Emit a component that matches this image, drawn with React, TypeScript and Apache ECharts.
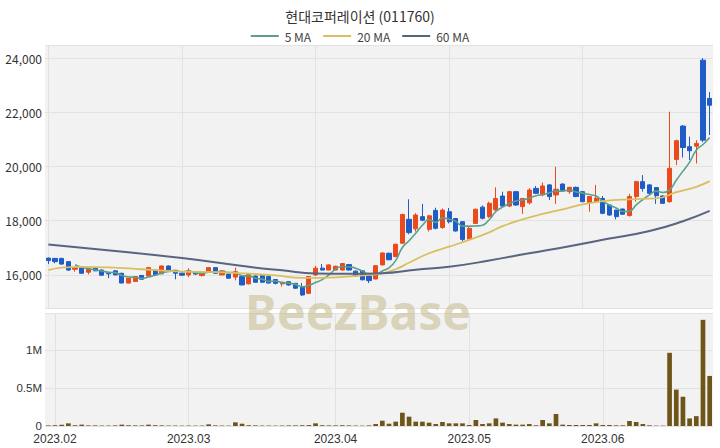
import React, { useEffect, useRef } from 'react';
import * as echarts from 'echarts';

const dates = [
  '2023-01-31',
  '2023-02-01','2023-02-02','2023-02-03','2023-02-06','2023-02-07','2023-02-08','2023-02-09','2023-02-10','2023-02-13','2023-02-14',
  '2023-02-15','2023-02-16','2023-02-17','2023-02-20','2023-02-21','2023-02-22','2023-02-23','2023-02-24','2023-02-27','2023-02-28',
  '2023-03-02','2023-03-03','2023-03-06','2023-03-07','2023-03-08','2023-03-09','2023-03-10','2023-03-13','2023-03-14','2023-03-15',
  '2023-03-16','2023-03-17','2023-03-20','2023-03-21','2023-03-22','2023-03-23','2023-03-24','2023-03-27','2023-03-28','2023-03-29',
  '2023-03-30','2023-03-31',
  '2023-04-03','2023-04-04','2023-04-05','2023-04-06','2023-04-07','2023-04-10','2023-04-11','2023-04-12','2023-04-13','2023-04-14',
  '2023-04-17','2023-04-18','2023-04-19','2023-04-20','2023-04-21','2023-04-24','2023-04-25','2023-04-26','2023-04-27','2023-04-28',
  '2023-05-02','2023-05-03','2023-05-04','2023-05-08','2023-05-09','2023-05-10','2023-05-11','2023-05-12','2023-05-15','2023-05-16',
  '2023-05-17','2023-05-18','2023-05-19','2023-05-22','2023-05-23','2023-05-24','2023-05-25','2023-05-26','2023-05-30','2023-05-31',
  '2023-06-01','2023-06-02','2023-06-05','2023-06-07','2023-06-08','2023-06-09','2023-06-12','2023-06-13','2023-06-14','2023-06-15',
  '2023-06-16','2023-06-19','2023-06-20','2023-06-21','2023-06-22','2023-06-23','2023-06-26',
];

const opens = [
  16620, 16610, 16610, 16490, 16210, 16270, 16100, 16250, 16180, 16090,
  16150, 16060, 15700, 15760, 15980, 15960, 16180, 16040, 16330, 16150,
  16060, 16000, 16090, 15980, 16100, 16270, 16000, 16030, 15920, 15940,
  15670, 15960, 16000, 15940, 15830, 15670, 15750, 15690, 15570, 15320,
  16000, 16250, 16180, 16180, 16180, 16380, 16140, 16150, 15960, 15850,
  16370, 16800, 16680, 17170, 18050, 17700, 18150, 17680, 18380, 17750,
  18330, 18080, 17960, 17320, 17900, 18500, 18150, 18400, 18910, 18540,
  19070, 18520, 18660, 19190, 18950, 19320, 18950, 19350, 19070, 19230,
  19070, 18670, 18700, 18820, 18580, 18390, 18430, 18190, 18890, 19440,
  19320, 19220, 18910, 18700, 20260, 21490, 20730, 20750, 23920, 22510,
];
const closes = [
  16530, 16490, 16400, 16180, 16270, 16060, 16250, 16150, 15990, 16040,
  16000, 15700, 15880, 15940, 15840, 16270, 16000, 16330, 16180, 16060,
  15990, 16150, 16030, 16080, 16270, 16060, 16150, 15880, 16120, 15630,
  16020, 15730, 15730, 15700, 15690, 15730, 15630, 15510, 15260, 15940,
  16250, 16180, 16370, 16320, 16420, 16180, 15960, 15820, 15790, 16340,
  16810, 16560, 17130, 18230, 17560, 18210, 18020, 18180, 17720, 18390,
  17960, 17620, 17310, 17720, 18420, 18090, 18640, 18820, 18540, 19070,
  18580, 18820, 19130, 19010, 19280, 18890, 19160, 19110, 19230, 18890,
  18700, 18890, 18830, 18270, 18210, 18150, 18240, 18890, 19440, 19190,
  19010, 18920, 18640, 19930, 20950, 20700, 20580, 20850, 20970, 22260,
];
const lows = [
  16400, 16430, 16380, 16150, 16120, 16050, 16020, 16140, 15980, 15880,
  15990, 15690, 15690, 15740, 15830, 15950, 15990, 16030, 16170, 15840,
  15970, 15920, 16000, 15940, 16090, 16050, 15990, 15870, 15800, 15620,
  15650, 15720, 15720, 15690, 15650, 15570, 15600, 15480, 15230, 15300,
  15960, 16170, 16170, 16170, 16170, 16170, 15930, 15800, 15700, 15840,
  16350, 16540, 16650, 17150, 17500, 17600, 17980, 17600, 17680, 17700,
  17900, 17600, 17250, 17300, 17880, 18050, 18100, 18350, 18500, 18500,
  18540, 18250, 18600, 18980, 18900, 18760, 18620, 19080, 18990, 18870,
  18680, 18330, 18680, 18240, 18180, 18050, 18220, 18150, 18700, 19070,
  18990, 18620, 18620, 18660, 20050, 20330, 20240, 20110, 20900, 21160,
];
const highs = [
  16640, 16620, 16630, 16500, 16280, 16280, 16260, 16260, 16200, 16100,
  16180, 16080, 15900, 15960, 16000, 16290, 16200, 16350, 16350, 16160,
  16080, 16250, 16120, 16120, 16290, 16290, 16170, 16050, 16270, 15950,
  16040, 15980, 16010, 15960, 15850, 15740, 15760, 15700, 15700, 15960,
  16330, 16400, 16390, 16340, 16440, 16400, 16160, 16170, 15980, 16360,
  16830, 16820, 17150, 18260, 18790, 18280, 18620, 18220, 18480, 18450,
  18470, 18100, 17980, 17800, 18450, 18560, 18700, 19230, 19070, 19100,
  19100, 18840, 19200, 19280, 19410, 19350, 19990, 19380, 19250, 19260,
  19100, 18900, 19320, 18910, 18600, 18400, 18450, 18990, 19470, 19680,
  19350, 19240, 18940, 22020, 20990, 21530, 21100, 20970, 24000, 22750,
];
const volumes = [
  8000, 10000, 18000, 35000, 10000, 18000, 8000, 8000, 6000, 6000,
  8000, 18000, 10000, 8000, 8000, 18000, 10000, 8000, 6000, 6000,
  5000, 6000, 5000, 6000, 22000, 8000, 6000, 5000, 48000, 30000,
  10000, 8000, 6000, 6000, 5000, 6000, 8000, 8000, 10000, 12000,
  35000, 10000, 8000, 8000, 10000, 8000, 6000, 5000, 8000, 26000,
  70000, 30000, 57000, 175000, 123000, 57000, 57000, 44000, 26000, 53000,
  35000, 35000, 35000, 13000, 79000, 26000, 35000, 100000, 44000, 26000,
  18000, 18000, 26000, 9000, 79000, 35000, 158000, 18000, 13000, 13000,
  13000, 13000, 35000, 13000, 13000, 9000, 9000, 66000, 53000, 26000,
  9000, 5000, 5000, 965000, 480000, 386000, 100000, 130000, 1400000, 660000,
];

// Moving averages at selected trading days (index into dates)
const ma20Index = [0, 2, 5, 9, 14, 20, 25, 29, 34, 38, 43, 48, 50, 52, 54, 57, 60, 63, 66, 68, 71, 74, 77, 80, 83, 87, 91, 94, 97, 99];
const ma20Value = [16180, 16270, 16300, 16280, 16210, 16120, 16100, 16060, 15980, 15890, 15910, 16000, 16060, 16210, 16450, 16800, 17040, 17290, 17570, 17800, 18050, 18250, 18420, 18600, 18720, 18790, 18820, 19050, 19250, 19460];
const ma60Index = [0, 10, 20, 30, 35, 40, 45, 50, 55, 60, 66, 72, 78, 84, 90, 95, 99];
const ma60Value = [17120, 16880, 16620, 16300, 16170, 16050, 16040, 16060, 16190, 16300, 16530, 16800, 17060, 17340, 17620, 17980, 18360];

const UP = '#ea4a1c';
const DOWN = '#1f5cc6';
const VOL = '#6e5519';
const C_MA5 = '#5ba08b';
const C_MA20 = '#d8c062';
const C_MA60 = '#5a6480';

const isMonthStart = (i: number) => i > 0 && dates[i].slice(5, 7) !== dates[i - 1].slice(5, 7);

export default function App() {
  const ref = useRef<HTMLDivElement>(null);
  useEffect(() => {
    document.body.style.margin = '0';
    if (!ref.current) return;
    const chart = echarts.init(ref.current, undefined, { renderer: 'svg' });

    const ma5: (number | null)[] = closes.map((_, i) => {
      if (i < 4) return null;
      let s = 0;
      for (let k = i - 4; k <= i; k++) s += closes[k];
      return Math.round(s / 5);
    });

    const font = "'Noto Sans CJK KR', 'Noto Sans', sans-serif";
    const tightFont = "'Liberation Sans', Arial, sans-serif";

    chart.setOption({
      animation: false,
      backgroundColor: '#ffffff',
      textStyle: { fontFamily: font },
      title: {
        text: '현대코퍼레이션 (011760)',
        left: 'center',
        top: 4,
        textStyle: { fontSize: 14, fontWeight: 'normal', color: '#333', fontFamily: font },
      },
      legend: {
        top: 25,
        left: 'center',
        icon: 'rect',
        itemWidth: 28,
        itemHeight: 2,
        itemGap: 12,
        textStyle: { fontSize: 12, color: '#444', padding: [0, 0, 0, 1] },
        data: ['5 MA', '20 MA', '60 MA'],
      },
      grid: [
        { left: 45, right: 7, top: 45, height: 263, show: true, backgroundColor: '#f2f2f2', borderWidth: 0 },
        { left: 45, right: 7, top: 313, height: 113, show: true, backgroundColor: '#f2f2f2', borderWidth: 0 },
      ],
      xAxis: [
        {
          type: 'category',
          gridIndex: 0,
          data: dates,
          boundaryGap: true,
          axisLine: { show: false },
          axisTick: { show: false },
          axisLabel: { show: false },
          splitLine: { show: true, interval: 19, alignWithLabel: true, lineStyle: { color: '#e2e2e2', width: 1 } },
        },
        {
          type: 'category',
          gridIndex: 1,
          data: dates,
          boundaryGap: true,
          axisLine: { show: false },
          axisTick: { show: false },
          axisLabel: {
            interval: (i: number) => isMonthStart(i),
            formatter: (v: string) => v.slice(0, 4) + '.' + v.slice(5, 7),
            fontSize: 12,
            lineHeight: 12,
            fontFamily: tightFont,
            color: '#333',
            margin: 7,
          },
          splitLine: {
            show: true,
            interval: (i: number) => isMonthStart(i),
            alignWithLabel: true,
            lineStyle: { color: '#e2e2e2', width: 1 },
          },
        },
      ],
      yAxis: [
        {
          type: 'value',
          gridIndex: 0,
          min: 14780,
          max: 24480,
          axisLine: { show: false },
          axisTick: { show: false },
          axisLabel: {
            formatter: (v: number) => v.toLocaleString('en-US'),
            showMinLabel: false,
            showMaxLabel: false,
            fontSize: 12,
            color: '#333',
            margin: 3,
          },
          splitLine: { lineStyle: { color: '#e2e2e2', width: 1 } },
        },
        {
          type: 'value',
          gridIndex: 1,
          min: 0,
          max: 1490000,
          interval: 500000,
          axisLine: { show: false },
          axisTick: { show: false },
          axisLabel: {
            formatter: (v: number) => (v === 0 ? '0' : v / 1000000 + 'M'),
            showMaxLabel: false,
            fontSize: 11.5,
            lineHeight: 9,
            fontFamily: tightFont,
            color: '#333',
            margin: 3,
          },
          splitLine: { lineStyle: { color: '#e2e2e2', width: 1 } },
        },
      ],
      series: [
        {
          type: 'candlestick',
          name: 'price',
          xAxisIndex: 0,
          yAxisIndex: 0,
          barWidth: '70%',
          data: dates.map((_, i) => [opens[i], closes[i], lows[i], highs[i]]),
          itemStyle: { color: UP, color0: DOWN, borderColor: UP, borderColor0: DOWN, borderWidth: 1 },
        },
        {
          type: 'line',
          name: '5 MA',
          xAxisIndex: 0,
          yAxisIndex: 0,
          data: ma5,
          smooth: true,
          symbol: 'none',
          lineStyle: { color: C_MA5, width: 1.6 },
          itemStyle: { color: C_MA5 },
        },
        {
          type: 'line',
          name: '20 MA',
          xAxisIndex: 0,
          yAxisIndex: 0,
          data: ma20Index.map((d, k) => [dates[d], ma20Value[k]]),
          smooth: true,
          symbol: 'none',
          lineStyle: { color: C_MA20, width: 1.8 },
          itemStyle: { color: C_MA20 },
        },
        {
          type: 'line',
          name: '60 MA',
          xAxisIndex: 0,
          yAxisIndex: 0,
          data: ma60Index.map((d, k) => [dates[d], ma60Value[k]]),
          smooth: true,
          symbol: 'none',
          lineStyle: { color: C_MA60, width: 2 },
          itemStyle: { color: C_MA60 },
        },
        {
          type: 'bar',
          name: 'volume',
          xAxisIndex: 1,
          yAxisIndex: 1,
          barWidth: '70%',
          data: volumes,
          itemStyle: { color: VOL },
        },
      ],
      graphic: [
        {
          type: 'text',
          x: 358,
          y: 311,
          z: 100,
          silent: true,
          style: {
            text: 'BeezBase',
            fontSize: 48,
            fontWeight: 'bold',
            fontFamily: "'Noto Sans', 'Open Sans', sans-serif",
            fill: 'rgba(196, 184, 138, 0.55)',
            align: 'center',
            verticalAlign: 'middle',
          },
        },
      ],
    });
    return () => chart.dispose();
  }, []);
  return <div ref={ref} style={{ width: 720, height: 448 }} />;
}
